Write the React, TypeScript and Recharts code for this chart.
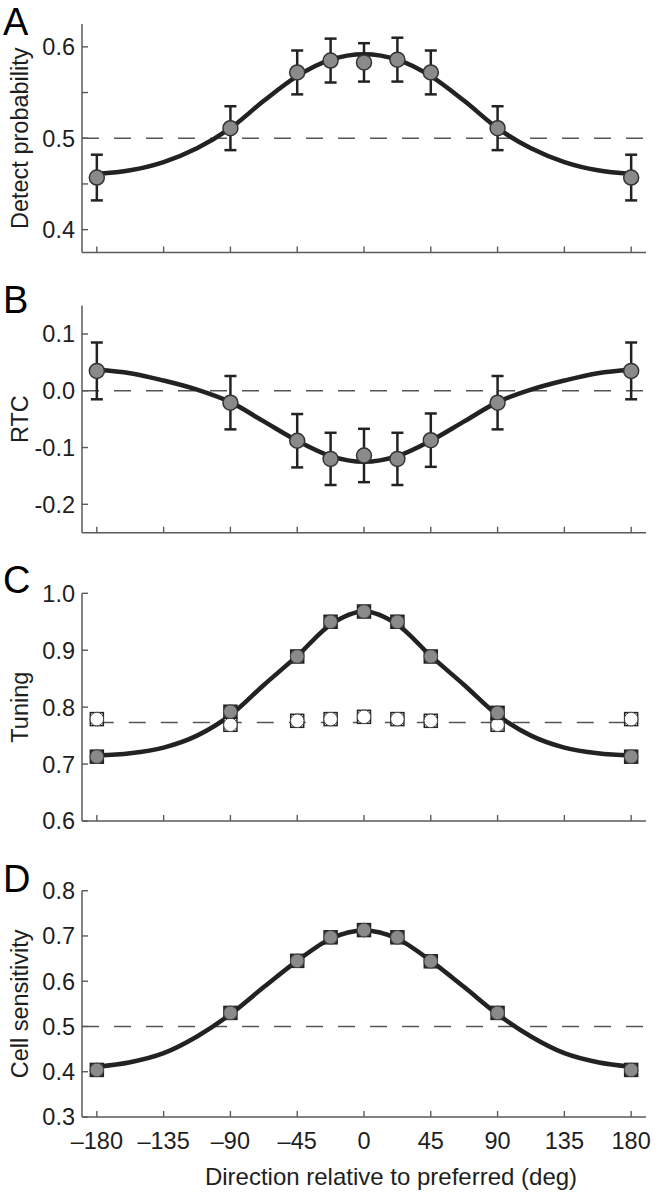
import React from "react";
import {
  ComposedChart,
  Line,
  Scatter,
  XAxis,
  YAxis,
  ReferenceLine,
  ErrorBar,
  Label,
} from "recharts";

const DIRECTIONS = [-180, -90, -45, -22.5, 0, 22.5, 45, 90, 180];
const FIT_DIRECTIONS = [
  -180, -157.5, -135, -112.5, -90, -67.5, -45, -22.5, 0, 22.5, 45, 67.5, 90, 112.5, 135, 157.5, 180,
];
const X_TICKS = [-180, -135, -90, -45, 0, 45, 90, 135, 180];

// A: detect probability
const DETECT_MEAN = [0.457, 0.511, 0.572, 0.585, 0.583, 0.586, 0.572, 0.511, 0.457];
const DETECT_SEM = [0.025, 0.024, 0.024, 0.024, 0.021, 0.024, 0.024, 0.024, 0.025];
const DETECT_FIT = [
  0.461, 0.465, 0.474, 0.489, 0.511, 0.541, 0.568, 0.586, 0.592, 0.586, 0.568, 0.541, 0.511, 0.489,
  0.474, 0.465, 0.461,
];
const DETECT_TICKS = [0.4, 0.45, 0.5, 0.55, 0.6];

// B: RTC
const RTC_MEAN = [0.035, -0.021, -0.088, -0.12, -0.114, -0.12, -0.087, -0.021, 0.035];
const RTC_SEM = [0.05, 0.047, 0.047, 0.046, 0.047, 0.046, 0.047, 0.047, 0.05];
const RTC_FIT = [
  0.037, 0.031, 0.018, 0.002, -0.02, -0.054, -0.088, -0.115, -0.125, -0.115, -0.088, -0.054, -0.02,
  0.002, 0.018, 0.031, 0.037,
];
const RTC_TICKS = [-0.2, -0.1, 0, 0.1];

// C: tuning (filled) and shuffled control (open)
const TUNING_MEAN = [0.713, 0.792, 0.889, 0.95, 0.968, 0.95, 0.889, 0.79, 0.713];
const TUNING_OPEN = [0.779, 0.769, 0.776, 0.779, 0.783, 0.779, 0.776, 0.769, 0.779];
const TUNING_FIT = [
  0.715, 0.719, 0.729, 0.75, 0.786, 0.839, 0.89, 0.945, 0.968, 0.945, 0.89, 0.839, 0.786, 0.75,
  0.729, 0.719, 0.715,
];
const TUNING_OPEN_FIT = [0.773, 0.773];
const TUNING_OPEN_FIT_X = [-180, 180];
const TUNING_TICKS = [0.6, 0.7, 0.8, 0.9, 1.0];

// D: cell sensitivity
const SENS_MEAN = [0.404, 0.53, 0.645, 0.697, 0.713, 0.697, 0.644, 0.53, 0.404];
const SENS_FIT = [
  0.411, 0.421, 0.441, 0.478, 0.527, 0.587, 0.645, 0.694, 0.712, 0.694, 0.645, 0.587, 0.527, 0.478,
  0.441, 0.421, 0.411,
];
const SENS_TICKS = [0.3, 0.4, 0.5, 0.6, 0.7, 0.8];

const FONT = '"Liberation Sans", Arial, Helvetica, sans-serif';
const INK = "#1e1e1e";
const AXIS = "#5a5a5a";
const GRAY = "#8a8a8a";
const W = 658;

const pts = (xs: number[], ys: number[], errs?: number[]) =>
  xs.map((x, i) => ({ x, y: ys[i], err: errs ? errs[i] : 0 }));

function XTick(props: any) {
  const { x, y, payload, showLabel } = props;
  const v = payload.value as number;
  return (
    <g>
      <line x1={x} x2={x} y1={y} y2={y - 6} stroke={AXIS} strokeWidth={1.4} />
      {showLabel && (
        <text x={x} y={y + 32} textAnchor="middle" fontSize={23.5} fill={INK} fontFamily={FONT}>
          {v < 0 ? `\u2013${Math.abs(v)}` : String(v)}
        </text>
      )}
    </g>
  );
}

function YTick(props: any) {
  const { x, y, payload } = props;
  const v = payload.value as number;
  const labelled = Math.abs(Math.round(v * 100)) % 10 === 0;
  return (
    <g>
      <line x1={x} x2={x + 6} y1={y} y2={y} stroke={AXIS} strokeWidth={1.4} />
      {labelled && (
        <text
          x={x - 7}
          y={y}
          dy="0.36em"
          textAnchor="end"
          fontSize={23.5}
          fill={INK}
          fontFamily={FONT}
        >
          {v.toFixed(1)}
        </text>
      )}
    </g>
  );
}

const roundDot = (p: any) => (
  <circle cx={p.cx} cy={p.cy} r={7.5} fill={GRAY} stroke="#333" strokeWidth={1.5} />
);

// tiny error bars with caps read as a square frame behind the marker
const squareDot = (fill: string, corner: string) => (p: any) => (
  <g>
    <rect x={p.cx - 6.5} y={p.cy - 6.5} width={13} height={13} fill={corner} stroke="#222" strokeWidth={1.5} />
    <circle cx={p.cx} cy={p.cy} r={6.8} fill={fill} stroke="#444" strokeWidth={1} />
  </g>
);

interface PanelProps {
  top: number;
  height: number;
  marginTop: number;
  xAxisHeight: number;
  domain: [number, number];
  yTicks: number[];
  letter: string;
  letterY: number;
  title: string;
  xLabels?: boolean;
  children: React.ReactNode;
}

function Panel({
  top,
  height,
  marginTop,
  xAxisHeight,
  domain,
  yTicks,
  letter,
  letterY,
  title,
  xLabels,
  children,
}: PanelProps) {
  const plotMid = marginTop + (height - marginTop - xAxisHeight) / 2;
  return (
    <div style={{ position: "absolute", left: 0, top }}>
      <ComposedChart width={W} height={height} margin={{ top: marginTop, right: 12, bottom: 0, left: 0 }}>
        <XAxis
          type="number"
          dataKey="x"
          domain={[-190, 190]}
          ticks={X_TICKS}
          allowDataOverflow
          height={xAxisHeight}
          tickSize={0}
          tickMargin={0}
          tickLine={false}
          axisLine={{ stroke: AXIS, strokeWidth: 1.5 }}
          tick={(p: any) => <XTick {...p} showLabel={xLabels} />}
          interval={0}
        >
          {xLabels && (
            <Label
              content={() => (
                <text x={391} y={height - 14} textAnchor="middle" fontSize={24} fill={INK} fontFamily={FONT}>
                  Direction relative to preferred (deg)
                </text>
              )}
            />
          )}
        </XAxis>
        <YAxis
          type="number"
          dataKey="y"
          domain={domain}
          ticks={yTicks}
          allowDataOverflow
          width={82}
          tickSize={0}
          tickMargin={0}
          tickLine={false}
          axisLine={{ stroke: AXIS, strokeWidth: 1.5 }}
          tick={(p: any) => <YTick {...p} />}
          interval={0}
        >
          <Label
            content={() => (
              <g>
                <text x={3} y={letterY} fontSize={38} fill="#000" fontFamily={FONT}>
                  {letter}
                </text>
                <text
                  transform={`translate(28, ${plotMid}) rotate(-90)`}
                  textAnchor="middle"
                  fontSize={23.5}
                  fill={INK}
                  fontFamily={FONT}
                >
                  {title}
                </text>
              </g>
            )}
          />
        </YAxis>
        {children}
      </ComposedChart>
    </div>
  );
}

const fitLine = (xs: number[], ys: number[]) => (
  <Line
    data={pts(xs, ys)}
    dataKey="y"
    type="monotoneX"
    stroke="#222"
    strokeWidth={4.5}
    dot={false}
    activeDot={false}
    isAnimationActive={false}
  />
);

const dashed = { stroke: "#555", strokeWidth: 1.5, strokeDasharray: "17 15" };

export default function App() {
  return (
    <div
      style={{
        position: "absolute",
        left: 0,
        top: 0,
        width: W,
        height: 1199,
        background: "#fff",
        overflow: "hidden",
      }}
    >
      <Panel
        top={0}
        height={280}
        marginTop={24}
        xAxisHeight={27.5}
        domain={[0.375, 0.625]}
        yTicks={DETECT_TICKS}
        letter="A"
        letterY={35}
        title="Detect probability"
      >
        <ReferenceLine y={0.5} {...dashed} />
        {fitLine(FIT_DIRECTIONS, DETECT_FIT)}
        <Scatter data={pts(DIRECTIONS, DETECT_MEAN, DETECT_SEM)} shape={roundDot} isAnimationActive={false}>
          <ErrorBar dataKey="err" direction="y" width={6} stroke="#222" strokeWidth={2.5} />
        </Scatter>
      </Panel>

      <Panel
        top={280}
        height={280}
        marginTop={25.6}
        xAxisHeight={27.3}
        domain={[-0.25, 0.15]}
        yTicks={RTC_TICKS}
        letter="B"
        letterY={33}
        title="RTC"
      >
        <ReferenceLine y={0} {...dashed} />
        {fitLine(FIT_DIRECTIONS, RTC_FIT)}
        <Scatter data={pts(DIRECTIONS, RTC_MEAN, RTC_SEM)} shape={roundDot} isAnimationActive={false}>
          <ErrorBar dataKey="err" direction="y" width={6} stroke="#222" strokeWidth={2.5} />
        </Scatter>
      </Panel>

      <Panel
        top={560}
        height={290}
        marginTop={33.3}
        xAxisHeight={29}
        domain={[0.6, 1.0]}
        yTicks={TUNING_TICKS}
        letter="C"
        letterY={33}
        title="Tuning"
      >
        <Line
          data={pts(TUNING_OPEN_FIT_X, TUNING_OPEN_FIT)}
          dataKey="y"
          type="linear"
          dot={false}
          activeDot={false}
          isAnimationActive={false}
          {...dashed}
        />
        {fitLine(FIT_DIRECTIONS, TUNING_FIT)}
        <Scatter data={pts(DIRECTIONS, TUNING_OPEN)} shape={squareDot("#fff", "#fff")} isAnimationActive={false} />
        <Scatter data={pts(DIRECTIONS, TUNING_MEAN)} shape={squareDot(GRAY, "#3c3c3c")} isAnimationActive={false} />
      </Panel>

      <Panel
        top={850}
        height={349}
        marginTop={40.7}
        xAxisHeight={82}
        domain={[0.3, 0.8]}
        yTicks={SENS_TICKS}
        letter="D"
        letterY={42}
        title="Cell sensitivity"
        xLabels
      >
        <ReferenceLine y={0.5} {...dashed} />
        {fitLine(FIT_DIRECTIONS, SENS_FIT)}
        <Scatter data={pts(DIRECTIONS, SENS_MEAN)} shape={squareDot(GRAY, "#3c3c3c")} isAnimationActive={false} />
      </Panel>
    </div>
  );
}
